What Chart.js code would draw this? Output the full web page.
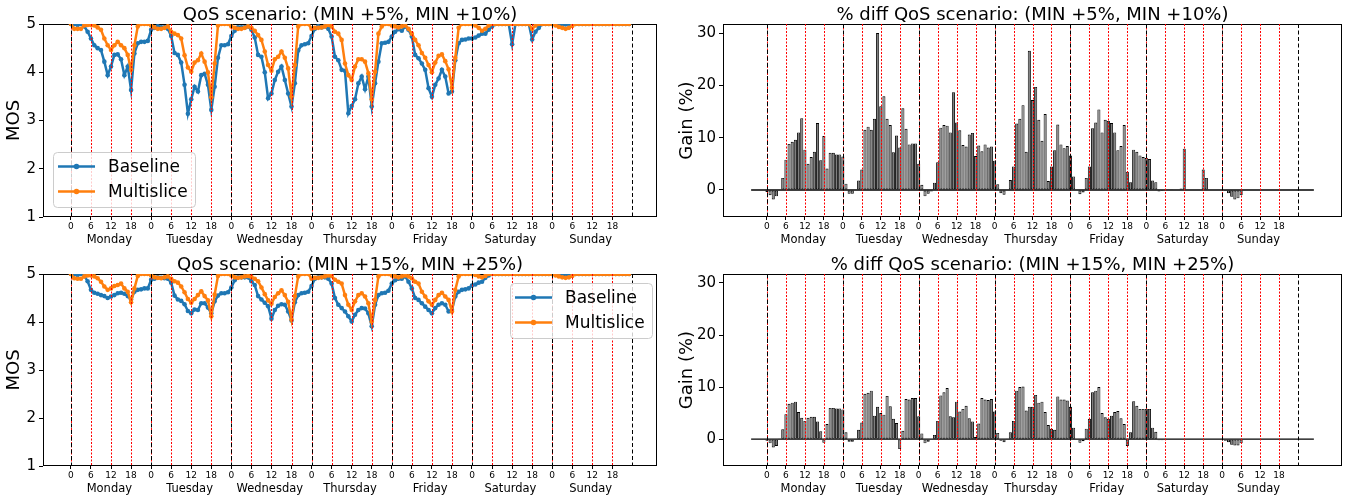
<!DOCTYPE html>
<html>
<head>
<meta charset="utf-8">
<script src="https://cdn.jsdelivr.net/npm/chart.js@4.4.1/dist/chart.umd.min.js"></script>
<style>
body { margin: 0; background: #fff; width: 1347px; height: 498px; overflow: hidden; position: relative; }
canvas { position: absolute; }
</style>
</head>
<body>
<canvas id="mos1" width="673" height="249" style="left:0;top:0"></canvas>
<canvas id="gain1" width="674" height="249" style="left:673px;top:0"></canvas>
<canvas id="mos2" width="673" height="248" style="left:0;top:250px"></canvas>
<canvas id="gain2" width="674" height="248" style="left:673px;top:250px"></canvas>
<script>
// week of hourly values, Monday 0h .. Sunday 23h
const days = ["Monday", "Tuesday", "Wednesday", "Thursday", "Friday", "Saturday", "Sunday"]
const hourMarks = [0, 6, 12, 18]
const mosTicks = [1, 2, 3, 4, 5]
const gainTicks = [0, 10, 20, 30]
const seriesNames = ["Baseline", "Multislice"]

// QoS scenario (MIN +5%, MIN +10%)
const mosBase1 = [
  5.00, 5.00, 4.98, 5.00, 4.95, 4.84, 4.70, 4.56, 4.50, 4.46, 4.22, 3.94, 4.12, 4.36, 4.37, 4.27, 3.94, 4.12, 3.63, 4.39, 4.60, 4.63, 4.63, 4.65,
  4.88, 4.92, 4.95, 4.93, 4.93, 4.90, 4.75, 4.40, 4.36, 4.20, 3.74, 3.14, 3.44, 3.70, 3.60, 3.94, 3.97, 3.74, 3.22, 3.70, 4.30, 4.56, 4.56, 4.58,
  4.75, 4.86, 4.93, 4.93, 4.93, 4.95, 4.88, 4.72, 4.36, 4.32, 4.00, 3.46, 3.56, 3.84, 4.01, 4.12, 3.84, 3.56, 3.29, 3.77, 4.45, 4.56, 4.58, 4.60,
  4.75, 4.90, 4.95, 4.93, 4.95, 4.90, 4.74, 4.32, 4.25, 4.05, 4.03, 3.15, 3.30, 3.44, 3.77, 3.91, 3.65, 3.91, 3.29, 3.77, 4.22, 4.60, 4.61, 4.63,
  4.74, 4.84, 4.89, 4.86, 4.95, 4.88, 4.74, 4.36, 4.29, 4.18, 4.05, 3.67, 3.49, 3.74, 3.87, 4.05, 3.91, 3.56, 3.60, 4.25, 4.60, 4.67, 4.68, 4.70,
  4.70, 4.72, 4.76, 4.80, 4.80, 4.88, 4.95, 5.00, 5.00, 5.00, 5.00, 5.00, 4.58, 5.00, 5.00, 5.00, 5.00, 5.00, 4.68, 4.84, 4.92, 5.00, 5.00, 5.00,
  5.00, 4.99, 4.98, 4.98, 4.99, 5.00, 5.00, 5.00, 5.00, 5.00, 5.00, 5.00, 5.00, 5.00, 5.00, 5.00, 5.00, 5.00, 5.00, 5.00, 5.00, 5.00, 5.00, 5.00
]
const mosMulti1 = [
  5.00, 4.90, 4.90, 4.90, 4.97, 4.98, 4.98, 4.97, 4.93, 4.88, 4.70, 4.56, 4.46, 4.56, 4.63, 4.56, 4.50, 4.36, 4.05, 4.56, 4.95, 5.00, 5.00, 5.00,
  4.97, 4.93, 4.90, 4.90, 4.92, 4.95, 4.84, 4.80, 4.77, 4.70, 4.35, 4.10, 4.01, 4.20, 4.25, 4.39, 4.22, 4.00, 3.48, 4.18, 4.97, 5.00, 5.00, 5.00,
  4.95, 4.92, 4.90, 4.90, 4.92, 4.95, 4.92, 4.86, 4.77, 4.67, 4.43, 4.15, 4.03, 4.27, 4.32, 4.43, 4.30, 4.08, 3.50, 4.15, 4.95, 5.00, 5.00, 5.00,
  4.90, 4.92, 4.92, 4.93, 4.95, 4.98, 4.95, 4.84, 4.80, 4.67, 4.18, 3.94, 3.84, 4.12, 4.27, 4.27, 4.22, 3.98, 3.44, 4.01, 4.80, 4.95, 5.00, 5.00,
  4.97, 4.95, 4.93, 4.95, 4.97, 4.90, 4.80, 4.67, 4.56, 4.40, 4.30, 4.15, 4.00, 4.20, 4.34, 4.37, 4.23, 4.06, 3.68, 4.30, 4.92, 5.00, 5.00, 5.00,
  5.00, 4.97, 4.92, 4.86, 4.90, 4.97, 5.00, 5.00, 5.00, 5.00, 5.00, 5.00, 5.00, 5.00, 5.00, 5.00, 5.00, 5.00, 4.90, 4.97, 5.00, 5.00, 5.00, 5.00,
  5.00, 4.97, 4.94, 4.92, 4.90, 4.92, 4.96, 5.00, 5.00, 5.00, 5.00, 5.00, 5.00, 5.00, 5.00, 5.00, 5.00, 5.00, 5.00, 5.00, 5.00, 5.00, 5.00, 5.00
]
const gain1 = [
  -0.4, -1.0, -1.8, -1.2, 0.0, 2.3, 5.8, 8.8, 9.2, 9.6, 11.0, 13.7, 7.7, 5.0, 6.3, 7.3, 12.8, 5.7, 10.3, 4.1, 7.1, 7.1, 6.8, 6.8,
  6.4, 1.2, -0.7, -0.7, 0.0, 1.8, 3.9, 11.5, 12.1, 11.5, 13.6, 30.0, 16.0, 17.9, 13.6, 12.4, 7.2, 10.4, 8.1, 15.6, 11.7, 8.7, 8.9, 8.9,
  5.0, 1.0, -1.2, -0.7, -0.3, 1.4, 5.3, 11.9, 12.4, 12.3, 11.0, 18.7, 12.9, 11.4, 8.6, 8.3, 10.6, 10.9, 6.5, 8.5, 7.4, 8.7, 8.1, 8.3,
  5.6, 1.1, -0.6, -0.9, 0.0, 1.9, 4.5, 12.7, 13.6, 16.2, 7.3, 26.6, 17.2, 19.7, 13.4, 9.4, 14.5, 1.7, 4.5, 7.6, 12.5, 8.7, 8.0, 8.4,
  6.6, 2.6, 0.0, -0.8, -0.5, 2.3, 4.5, 11.8, 12.9, 15.4, 11.0, 13.4, 13.2, 12.8, 11.0, 7.6, 8.4, 12.4, 3.5, 1.5, 7.7, 7.3, 6.6, 6.3,
  6.1, 5.9, 1.8, 1.5, -0.3, -0.2, 0.0, 0.05, 0.05, 0.1, 0.1, 0.3, 7.9, 0.0, 0.0, 0.0, 0.0, 0.0, 3.9, 2.3, 0.0, 0.0, 0.0, 0.0,
  -0.1, -0.2, -0.6, -1.3, -1.8, -1.6, -1.0, -0.05, 0.0, 0.0, 0.0, 0.0, 0.0, 0.0, 0.0, 0.0, 0.0, 0.0, 0.0, 0.0, 0.0, 0.0, 0.0, 0.0
]

// QoS scenario (MIN +15%, MIN +25%)
const mosBase2 = [
  5.00, 5.00, 4.98, 5.00, 4.96, 4.85, 4.67, 4.61, 4.59, 4.56, 4.54, 4.50, 4.53, 4.56, 4.60, 4.61, 4.59, 4.54, 4.47, 4.63, 4.67, 4.68, 4.70, 4.70,
  4.88, 4.90, 4.93, 4.92, 4.91, 4.90, 4.82, 4.55, 4.47, 4.44, 4.37, 4.23, 4.18, 4.26, 4.25, 4.39, 4.39, 4.30, 4.18, 4.43, 4.55, 4.60, 4.60, 4.62,
  4.72, 4.87, 4.93, 4.93, 4.93, 4.93, 4.85, 4.77, 4.54, 4.47, 4.40, 4.33, 4.07, 4.25, 4.34, 4.37, 4.36, 4.22, 4.03, 4.41, 4.56, 4.60, 4.61, 4.63,
  4.75, 4.90, 4.93, 4.93, 4.93, 4.90, 4.80, 4.50, 4.36, 4.29, 4.22, 4.12, 4.01, 4.15, 4.25, 4.29, 4.28, 4.18, 3.91, 4.36, 4.56, 4.60, 4.61, 4.65,
  4.80, 4.87, 4.90, 4.90, 4.95, 4.84, 4.70, 4.50, 4.46, 4.39, 4.32, 4.25, 4.18, 4.29, 4.36, 4.39, 4.36, 4.22, 4.25, 4.53, 4.63, 4.67, 4.68, 4.70,
  4.76, 4.78, 4.82, 4.84, 4.92, 4.97, 5.00, 5.00, 5.00, 5.00, 5.00, 5.00, 5.00, 5.00, 5.00, 5.00, 5.00, 5.00, 5.00, 5.00, 5.00, 5.00, 5.00, 5.00,
  5.00, 4.99, 4.98, 4.97, 4.98, 4.99, 5.00, 5.00, 5.00, 5.00, 5.00, 5.00, 5.00, 5.00, 5.00, 5.00, 5.00, 5.00, 5.00, 5.00, 5.00, 5.00, 5.00, 5.00
]
const mosMulti2 = [
  5.00, 4.91, 4.90, 4.90, 4.95, 4.97, 4.97, 4.95, 4.91, 4.84, 4.74, 4.67, 4.70, 4.75, 4.77, 4.80, 4.70, 4.63, 4.41, 4.70, 4.96, 5.00, 5.00, 5.00,
  4.97, 4.93, 4.92, 4.91, 4.93, 4.95, 4.90, 4.85, 4.82, 4.74, 4.62, 4.48, 4.40, 4.48, 4.56, 4.64, 4.54, 4.45, 4.12, 4.57, 4.96, 5.00, 5.00, 5.00,
  4.97, 4.93, 4.92, 4.93, 4.95, 4.96, 4.94, 4.90, 4.85, 4.72, 4.58, 4.45, 4.38, 4.52, 4.60, 4.66, 4.56, 4.42, 4.05, 4.54, 4.95, 5.00, 5.00, 5.00,
  4.90, 4.92, 4.92, 4.93, 4.95, 4.97, 4.96, 4.88, 4.84, 4.80, 4.56, 4.36, 4.25, 4.43, 4.56, 4.60, 4.53, 4.39, 4.01, 4.46, 4.95, 5.00, 5.00, 5.00,
  4.97, 4.95, 4.93, 4.95, 4.97, 4.95, 4.91, 4.84, 4.80, 4.63, 4.53, 4.43, 4.36, 4.46, 4.56, 4.61, 4.53, 4.46, 4.22, 4.67, 4.95, 5.00, 5.00, 5.00,
  5.00, 4.98, 4.95, 4.93, 4.96, 5.00, 5.00, 5.00, 5.00, 5.00, 5.00, 5.00, 5.00, 5.00, 5.00, 5.00, 5.00, 5.00, 5.00, 5.00, 5.00, 5.00, 5.00, 5.00,
  5.00, 4.97, 4.95, 4.93, 4.92, 4.93, 4.96, 5.00, 5.00, 5.00, 5.00, 5.00, 5.00, 5.00, 5.00, 5.00, 5.00, 5.00, 5.00, 5.00, 5.00, 5.00, 5.00, 5.00
]
const gain2 = [
  -0.3, -0.8, -1.6, -1.3, 0.1, 1.9, 4.8, 6.8, 7.0, 7.2, 5.2, 4.1, 3.5, 4.1, 4.3, 4.3, 3.4, 1.5, -0.7, 2.9, 6.0, 6.0, 5.9, 5.9,
  5.7, 1.3, -0.5, -0.5, 0.1, 1.8, 3.2, 8.7, 8.9, 9.3, 4.5, 6.2, 5.0, 4.7, 8.3, 6.3, 3.9, 3.1, -1.9, 1.6, 7.7, 7.6, 7.9, 7.9,
  4.4, 1.1, -0.8, -0.5, 0.0, 0.8, 3.5, 8.4, 9.0, 9.8, 4.4, 4.2, 7.2, 5.3, 5.8, 6.4, 4.0, 3.4, 0.4, 3.0, 7.9, 7.6, 7.5, 7.7,
  5.3, 1.2, -0.3, -0.6, 0.1, 1.3, 3.5, 9.3, 10.0, 10.1, 5.5, 6.2, 6.2, 8.5, 7.0, 7.2, 5.2, 2.7, 2.0, 1.8, 8.2, 7.6, 7.6, 7.4,
  6.2, 2.2, 0.0, -0.7, -0.4, 2.0, 3.9, 9.0, 9.3, 10.0, 5.0, 4.2, 3.9, 4.5, 5.2, 5.4, 4.0, 2.9, -1.3, 1.3, 7.3, 6.4, 5.8, 5.8,
  5.8, 5.8, 2.2, 1.4, -0.2, -0.2, 0.0, 0.0, 0.0, 0.0, 0.0, 0.0, 0.0, 0.0, 0.0, 0.0, 0.0, 0.0, 0.0, 0.0, 0.0, 0.0, 0.0, 0.0,
  -0.1, -0.3, -0.6, -1.1, -1.2, -1.2, -0.8, 0.0, 0.0, 0.0, 0.0, 0.0, 0.0, 0.0, 0.0, 0.0, 0.0, 0.0, 0.0, 0.0, 0.0, 0.0, 0.0, 0.0
]
const zeroLine = [-5, 173]

const azul = "#1f77b4"
const laranja = "#ff7f0e"
const fonte = "DejaVu Sans"
Chart.defaults.font.family = fonte
Chart.defaults.color = "#000"

const hourTicks = []
days.forEach((d, i) => hourMarks.forEach(h => hourTicks.push(i * 24 + h)))

// dashed day lines, dotted 6h lines, frame and the inner legend
const decor = {
    id: "decor",
    beforeDatasetsDraw(chart) {
        const { ctx, chartArea: a } = chart
        ctx.save()
        ctx.strokeStyle = "#000"
        ctx.lineWidth = 1
        ctx.strokeRect(a.left + 0.5, a.top + 0.5, a.right - a.left - 1, a.bottom - a.top - 1)
        ctx.restore()
    },
    afterDatasetsDraw(chart) {
        const { ctx, chartArea: a } = chart
        const x = chart.scales.x
        ctx.save()
        ctx.beginPath()
        ctx.rect(a.left, a.top, a.right - a.left, a.bottom - a.top)
        ctx.clip()
        ctx.lineWidth = 1
        ctx.strokeStyle = "#ff0000"
        ctx.setLineDash([2, 1.5])
        for (let h = 0; h < 168; h += 6) {
            const px = Math.round(x.getPixelForValue(h)) + 0.5
            ctx.beginPath(); ctx.moveTo(px, a.top); ctx.lineTo(px, a.bottom); ctx.stroke()
        }
        ctx.strokeStyle = "#000"
        ctx.setLineDash([4, 2.5])
        for (let h = 0; h <= 168; h += 24) {
            const px = Math.round(x.getPixelForValue(h)) + 0.5
            ctx.beginPath(); ctx.moveTo(px, a.top); ctx.lineTo(px, a.bottom); ctx.stroke()
        }
        ctx.restore()
    },
    afterDraw(chart, args, opts) {
        if (!opts.loc) return
        const { ctx, chartArea: a } = chart
        const w = 142, h = 55
        let bx, by
        if (opts.loc === "lower left") { bx = a.left + 10; by = a.bottom - 10 - h }
        else { bx = a.right - 5 - w; by = a.top + 9 }
        ctx.save()
        ctx.beginPath()
        ctx.roundRect(bx + 0.5, by + 0.5, w, h, 4)
        ctx.fillStyle = "rgba(255,255,255,0.8)"
        ctx.fill()
        ctx.strokeStyle = "#cccccc"
        ctx.lineWidth = 1
        ctx.stroke()
        chart.data.datasets.forEach((ds, i) => {
            const y = by + 14.5 + i * 25
            ctx.strokeStyle = ds.borderColor
            ctx.lineWidth = 2.5
            ctx.beginPath(); ctx.moveTo(bx + 5, y); ctx.lineTo(bx + 42, y); ctx.stroke()
            ctx.fillStyle = ds.borderColor
            ctx.beginPath(); ctx.arc(bx + 23.5, y, 2.8, 0, Math.PI * 2); ctx.fill()
            ctx.fillStyle = "#000"
            ctx.font = "17px " + fonte
            ctx.textBaseline = "middle"
            ctx.fillText(ds.label, bx + 55, y + 1)
        })
        ctx.restore()
    }
}

function eixos_x(min, max) {
    return {
        x: {
            type: "linear", position: "bottom", min: min, max: max, offset: false,
            afterBuildTicks: s => { s.ticks = hourTicks.map(v => ({ value: v })) },
            afterFit: s => { s.height = 14 },
            ticks: { callback: v => String(v % 24), font: { size: 9 }, padding: 1, maxRotation: 0, autoSkip: false },
            grid: { drawOnChartArea: false, tickLength: 3, color: "#000", offset: false },
            border: { display: false }
        },
        d: {
            type: "linear", axis: "x", position: "bottom", weight: 1, min: min, max: max, offset: false,
            afterBuildTicks: s => { s.ticks = days.map((_, i) => ({ value: i * 24 + 11.5 })) },
            afterFit: s => { s.height = 18 },
            ticks: { callback: (v, i) => days[i], font: { size: 11.5 }, padding: 2, maxRotation: 0, autoSkip: false },
            grid: { display: false, drawTicks: false },
            border: { display: false }
        }
    }
}

function eixo_y(min, max, marcas, titulo, largura) {
    return {
        min: min, max: max,
        afterBuildTicks: s => { s.ticks = marcas.map(v => ({ value: v })) },
        afterFit: s => { s.width = largura },
        ticks: { font: { size: 15 }, padding: 3 },
        grid: { drawOnChartArea: false, tickLength: 4, color: "#000" },
        border: { display: false },
        title: { display: true, text: titulo, font: { size: 18 }, padding: { top: 4, bottom: 0 } }
    }
}

function titulo(texto) {
    return { display: true, text: texto, fullSize: false, font: { size: 18, weight: "normal", lineHeight: 1 }, color: "#000", padding: { top: 6, bottom: 0 } }
}

function criar_mos(id, base, multi, texto, loc) {
    const pontos = arr => arr.map((v, i) => ({ x: i, y: v }))
    return new Chart(document.getElementById(id), {
        type: "line",
        data: {
            datasets: [
                { label: seriesNames[0], data: pontos(base), borderColor: azul, backgroundColor: azul, borderWidth: 2.5, pointRadius: 2.3, pointBorderWidth: 0, pointBackgroundColor: azul, order: 2 },
                { label: seriesNames[1], data: pontos(multi), borderColor: laranja, backgroundColor: laranja, borderWidth: 2.5, pointRadius: 2.3, pointBorderWidth: 0, pointBackgroundColor: laranja, order: 1 }
            ]
        },
        options: {
            responsive: false, animation: false,
            layout: { padding: { left: 0, right: 16, top: 0, bottom: 0 } },
            plugins: { legend: { display: false }, tooltip: { enabled: false }, title: titulo(texto), decor: { loc: loc } },
            scales: Object.assign(eixos_x(-8.35, 175.35), { y: eixo_y(1, 5, mosTicks, "MOS", 43) })
        },
        plugins: [decor]
    })
}

function criar_gain(id, gain, texto) {
    return new Chart(document.getElementById(id), {
        type: "bar",
        data: {
            datasets: [
                { type: "line", data: zeroLine.map(v => ({ x: v, y: 0 })), borderColor: "#000", borderWidth: 1.3, pointRadius: 0, order: 0 },
                { type: "bar", data: gain.map((v, i) => ({ x: i, y: v })), backgroundColor: "#7f7f7f", borderColor: "#000", borderWidth: 0.9, borderSkipped: false, barPercentage: 1, categoryPercentage: 0.97, order: 1 }
            ]
        },
        options: {
            responsive: false, animation: false,
            layout: { padding: { left: 0, right: 5, top: 0, bottom: 0 } },
            plugins: { legend: { display: false }, tooltip: { enabled: false }, title: titulo(texto), decor: {} },
            scales: Object.assign(eixos_x(-13.9, 181.9), { y: eixo_y(-5.16, 31.72, gainTicks, "Gain (%)", 50) })
        },
        plugins: [decor]
    })
}

criar_mos("mos1", mosBase1, mosMulti1, "QoS scenario: (MIN +5%, MIN +10%)", "lower left")
criar_gain("gain1", gain1, "% diff QoS scenario: (MIN +5%, MIN +10%)")
criar_mos("mos2", mosBase2, mosMulti2, "QoS scenario: (MIN +15%, MIN +25%)", "upper right")
criar_gain("gain2", gain2, "% diff QoS scenario: (MIN +15%, MIN +25%)")
</script>
</body>
</html>
